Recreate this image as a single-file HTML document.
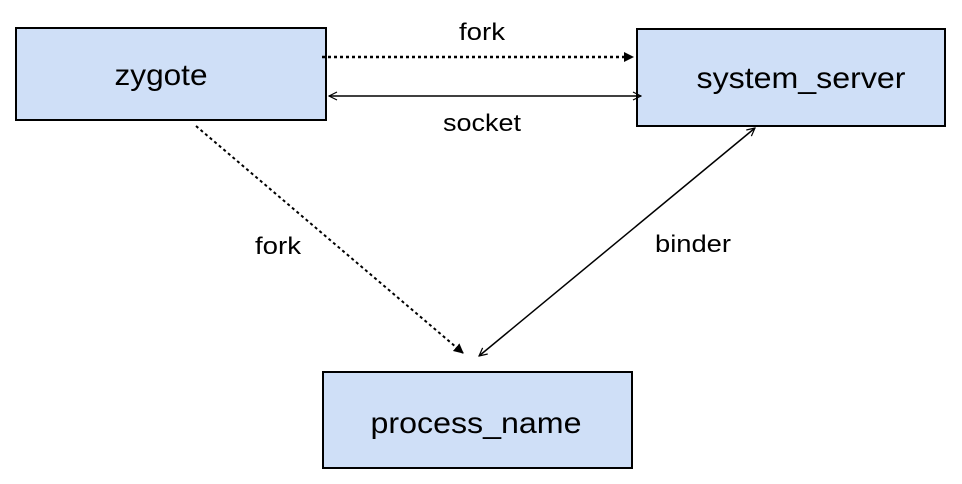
<!DOCTYPE html>
<html><head><style>
body{margin:0;background:#fff;}
svg{display:block;font-family:"Liberation Sans",sans-serif;}
</style></head><body>
<svg width="962" height="484" xmlns="http://www.w3.org/2000/svg">
<defs>
<marker id="tri" markerWidth="10" markerHeight="10" refX="9" refY="5" orient="auto" markerUnits="userSpaceOnUse"><path d="M0,0 L10,5 L0,10 z" fill="#000"/></marker>
<marker id="open" markerWidth="10" markerHeight="10" refX="9" refY="5" orient="auto" markerUnits="userSpaceOnUse"><path d="M1,1 L9,5 L1,9" fill="none" stroke="#000" stroke-width="1.2"/></marker>
<marker id="openS" markerWidth="10" markerHeight="10" refX="1" refY="5" orient="auto" markerUnits="userSpaceOnUse"><path d="M9,1 L1,5 L9,9" fill="none" stroke="#000" stroke-width="1.2"/></marker>
</defs>
<rect x="16" y="28" width="310" height="92" fill="#cfdff7" stroke="#000" stroke-width="2"/>
<rect x="637" y="29" width="308" height="97" fill="#cfdff7" stroke="#000" stroke-width="2"/>
<rect x="323" y="372" width="309" height="96" fill="#cfdff7" stroke="#000" stroke-width="2"/>
<text x="161" y="85" font-size="30" text-anchor="middle" textLength="93" lengthAdjust="spacingAndGlyphs">zygote</text>
<text x="801" y="88" font-size="30" text-anchor="middle" textLength="209" lengthAdjust="spacingAndGlyphs">system_server</text>
<text x="476" y="433" font-size="30" text-anchor="middle" textLength="211" lengthAdjust="spacingAndGlyphs">process_name</text>
<line x1="322" y1="57" x2="633" y2="57" stroke="#000" stroke-width="2.5" stroke-dasharray="3,3" marker-end="url(#tri)"/>
<line x1="329" y1="96" x2="641" y2="96" stroke="#000" stroke-width="1.5" marker-end="url(#open)" marker-start="url(#openS)"/>
<line x1="196" y1="126" x2="463" y2="353" stroke="#000" stroke-width="2" stroke-dasharray="3,3" marker-end="url(#tri)"/>
<line x1="755" y1="128" x2="479" y2="356" stroke="#000" stroke-width="1.5" marker-end="url(#open)" marker-start="url(#openS)"/>
<text x="482" y="40" font-size="24" text-anchor="middle" textLength="46" lengthAdjust="spacingAndGlyphs">fork</text>
<text x="482" y="131" font-size="24" text-anchor="middle" textLength="78" lengthAdjust="spacingAndGlyphs">socket</text>
<text x="278" y="254" font-size="24" text-anchor="middle" textLength="46" lengthAdjust="spacingAndGlyphs">fork</text>
<text x="693" y="252" font-size="24" text-anchor="middle" textLength="76" lengthAdjust="spacingAndGlyphs">binder</text>
</svg>
</body></html>
